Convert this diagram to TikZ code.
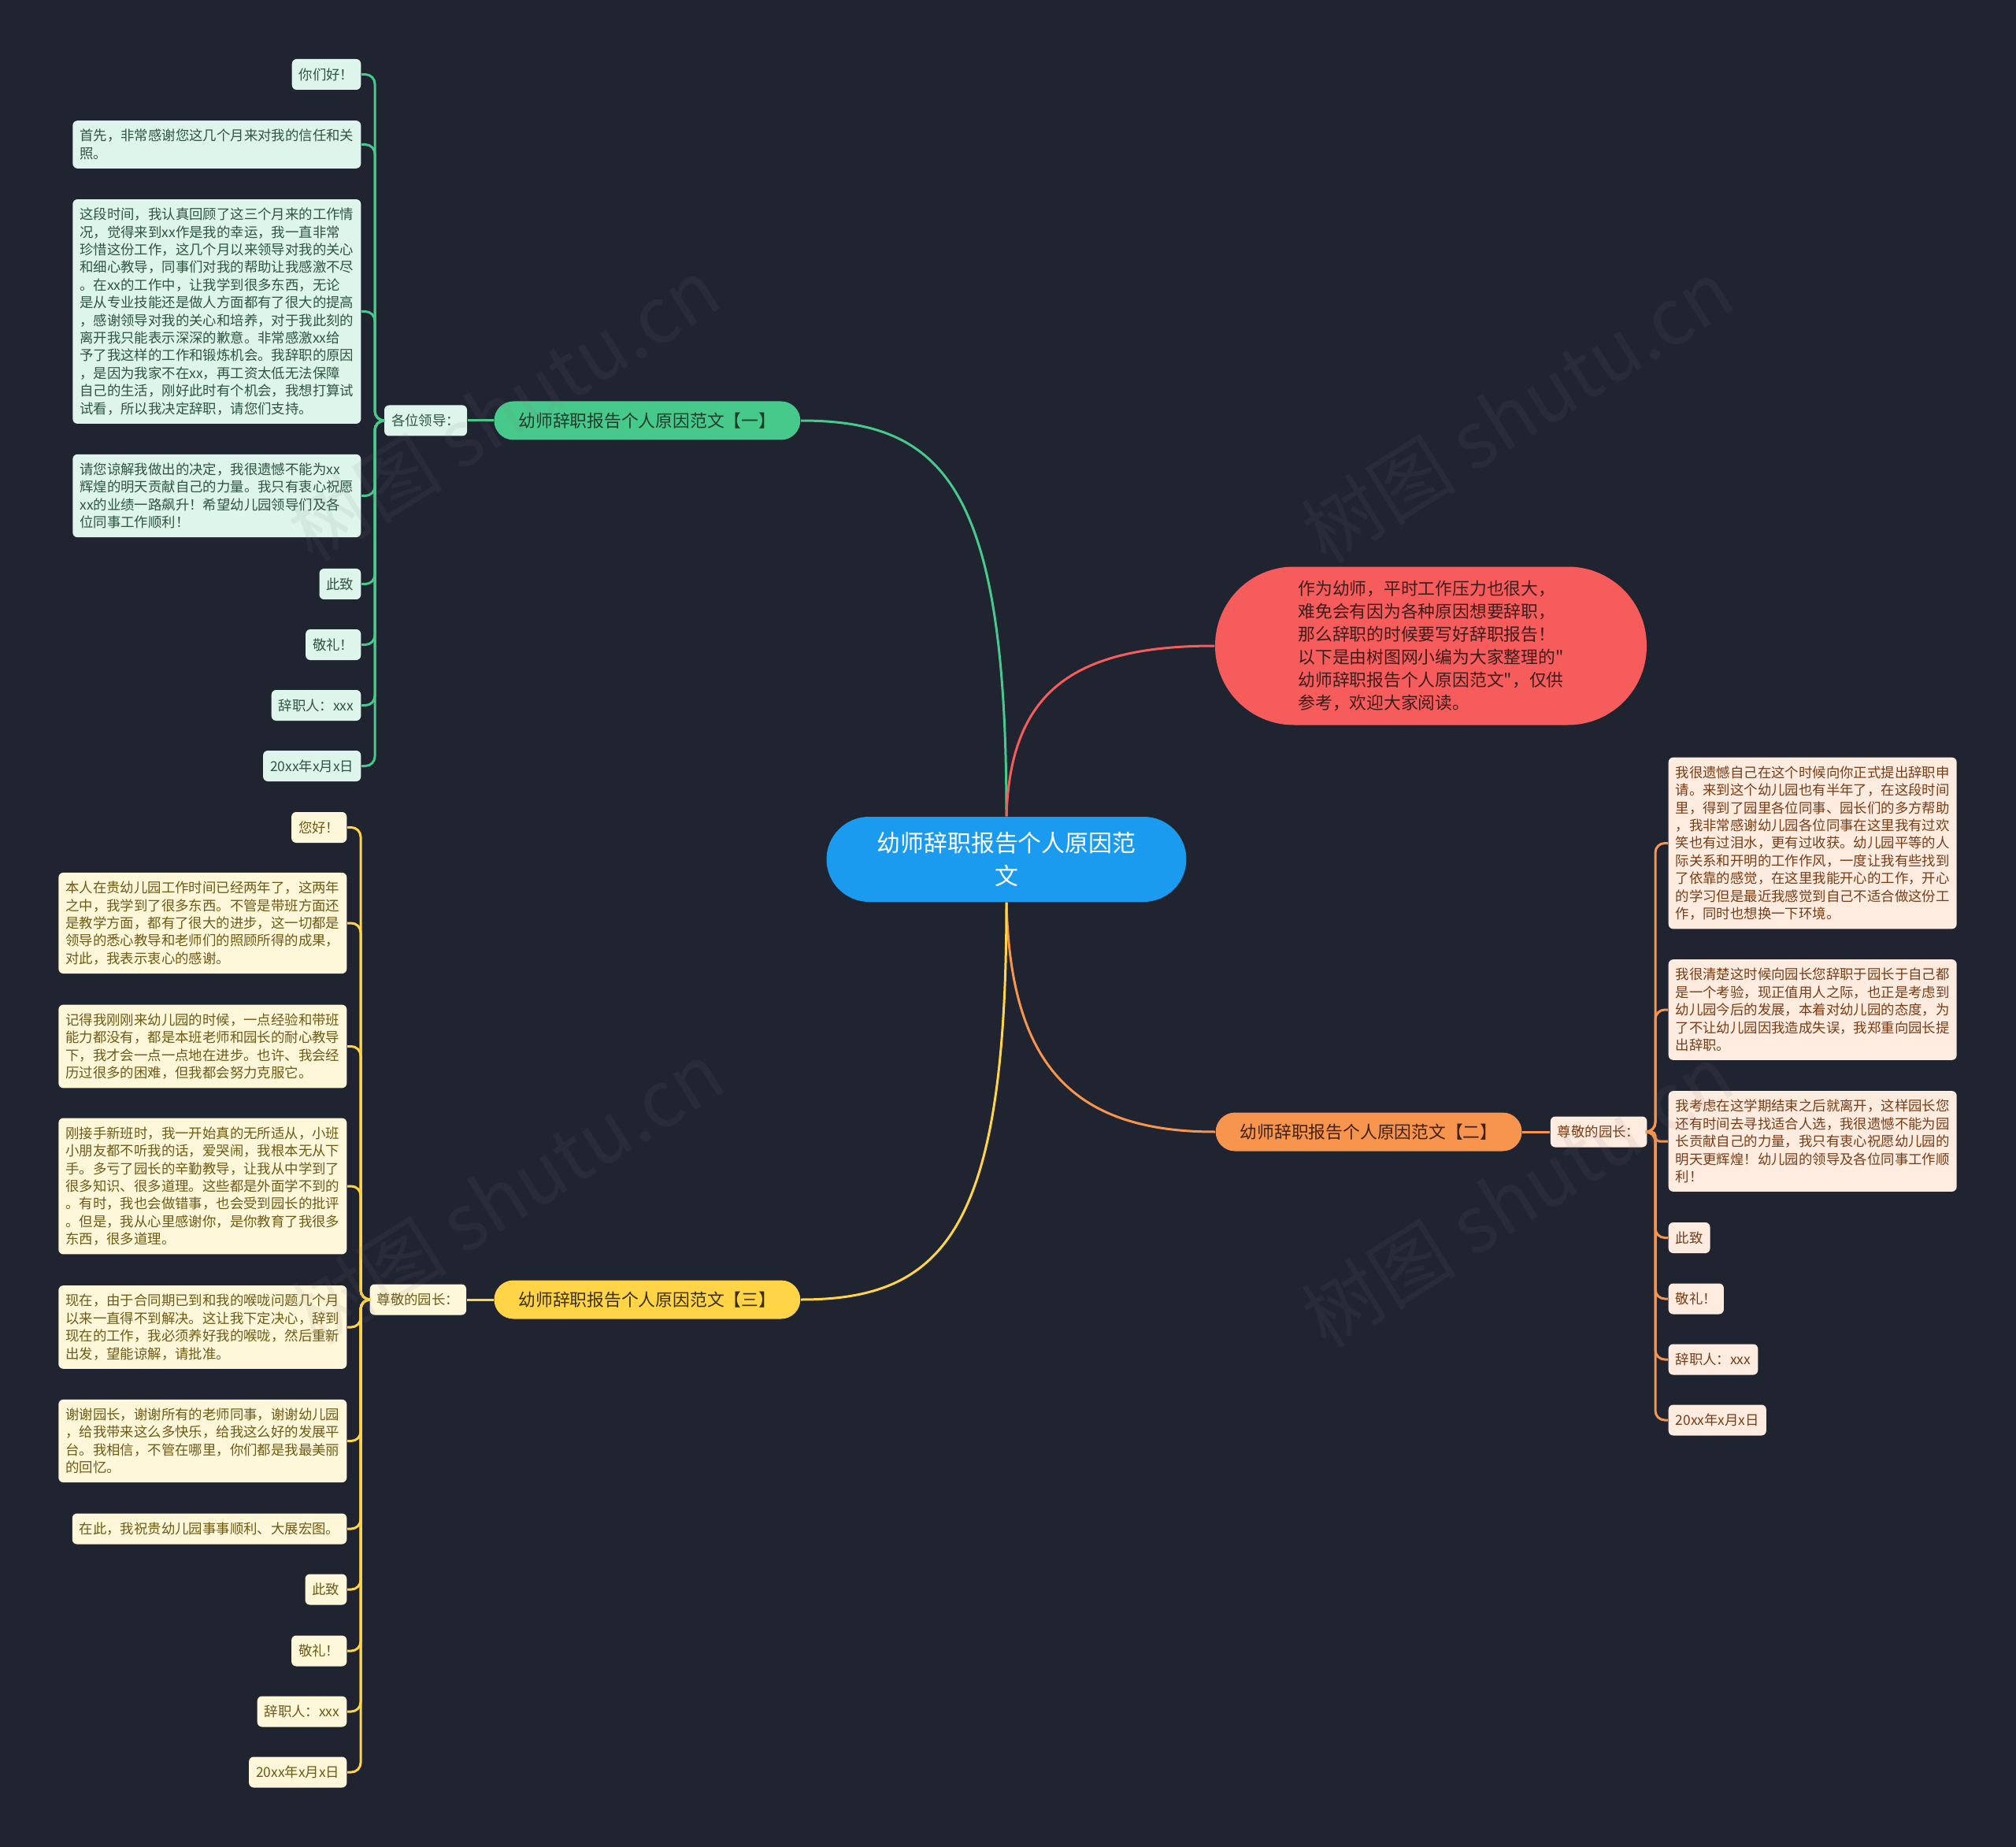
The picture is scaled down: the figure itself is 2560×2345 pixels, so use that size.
\documentclass[tikz,border=0pt]{standalone}
\usepackage{fontspec}
\setmainfont{Noto Sans CJK SC}
\newfontfamily\plainfont{Noto Sans CJK SC}
\usepackage{tikz}
\usetikzlibrary{positioning}
\definecolor{bg}{HTML}{202330}
\definecolor{rootc}{HTML}{1A9BF0}
\definecolor{grn}{HTML}{47C98B}
\definecolor{grnlf}{HTML}{DDF5EA}
\definecolor{grntx}{HTML}{2E5444}
\definecolor{grntop}{HTML}{1E3B2C}
\definecolor{ylw}{HTML}{FFD447}
\definecolor{ylwlf}{HTML}{FFF7DA}
\definecolor{ylwtx}{HTML}{6E5A14}
\definecolor{ylwtop}{HTML}{3B300B}
\definecolor{org}{HTML}{F7954F}
\definecolor{orglf}{HTML}{FFECE1}
\definecolor{orgtx}{HTML}{783C14}
\definecolor{orgtop}{HTML}{40210C}
\definecolor{rd}{HTML}{F65C5C}
\definecolor{rdtx}{HTML}{3D1C1C}

\begin{document}
\begin{tikzpicture}[x=0.1mm, y=-0.1mm,
  root/.style={fill=rootc, text=white, rounded corners=5.4mm, minimum width=45.7mm,
    minimum height=10.8mm, align=center, font=\fontsize{8.5pt}{11.9pt}\selectfont},
  intro/.style={fill=rd, text=rdtx, rounded corners=10mm, minimum width=54.8mm,
    minimum height=20.1mm, align=left, font=\plainfont\fontsize{6.2pt}{8.25pt}\selectfont},
  topic/.style={rounded corners=2.45mm, minimum height=4.9mm, inner xsep=3.1mm,
    inner ysep=0pt, font=\fontsize{6.2pt}{7.5pt}\selectfont},
  note/.style={rounded corners=0.6mm, inner xsep=0.9mm, inner ysep=1.1mm,
    minimum height=3.9mm, align=left, font=\fontsize{4.95pt}{6.37pt}\selectfont},
  gnote/.style={note, fill=grnlf, text=grntx, anchor=east},
  ynote/.style={note, fill=ylwlf, text=ylwtx, anchor=east},
  onote/.style={note, fill=orglf, text=orgtx, anchor=west},
  link/.style={line width=0.3mm},
  fork/.style={line width=0.3mm, rounded corners=1.2mm},
  wmark/.style={text=gray, opacity=0.1, rotate=32, font=\fontsize{28pt}{28pt}\selectfont}
]
\fill[bg] (0,0) rectangle (2560,2345);

% centre and intro
\node[root] (root) at (1278,1091) {幼师辞职报告个人原因范\\文};
\node[intro] (intro) at (1817,820) {作为幼师，平时工作压力也很大，\\难免会有因为各种原因想要辞职，\\那么辞职的时候要写好辞职报告！\\以下是由树图网小编为大家整理的"\\幼师辞职报告个人原因范文"，仅供\\参考，欢迎大家阅读。};

% branch one
\node[topic, fill=grn, text=grntop, anchor=east] (t1) at (1017,534) {幼师辞职报告个人原因范文【一】};
\node[gnote, left=3.3mm of t1] (t1l) {各位领导：};
\coordinate (g-sp) at (476,534);
\node[gnote] (g1) at (459,94.5) {你们好！};
\node[gnote] (g2) at (459,183.5) {首先，非常感谢您这几个月来对我的信任和关\\照。};
\node[gnote] (g3) at (459,395.5) {这段时间，我认真回顾了这三个月来的工作情\\况，觉得来到xx作是我的幸运，我一直非常\\珍惜这份工作，这几个月以来领导对我的关心\\和细心教导，同事们对我的帮助让我感激不尽\\。在xx的工作中，让我学到很多东西，无论\\是从专业技能还是做人方面都有了很大的提高\\，感谢领导对我的关心和培养，对于我此刻的\\离开我只能表示深深的歉意。非常感激xx给\\予了我这样的工作和锻炼机会。我辞职的原因\\，是因为我家不在xx，再工资太低无法保障\\自己的生活，刚好此时有个机会，我想打算试\\试看，所以我决定辞职，请您们支持。};
\node[gnote] (g4) at (459,629.5) {请您谅解我做出的决定，我很遗憾不能为xx\\辉煌的明天贡献自己的力量。我只有衷心祝愿\\xx的业绩一路飙升！希望幼儿园领导们及各\\位同事工作顺利！};
\node[gnote] (g5) at (459,741.5) {此致};
\node[gnote] (g6) at (459,818.5) {敬礼！};
\node[gnote] (g7) at (459,895.5) {辞职人：xxx};
\node[gnote] (g8) at (459,972.5) {20xx年x月x日};

% branch two
\node[topic, fill=org, text=orgtop, anchor=west] (t2) at (1543,1437) {幼师辞职报告个人原因范文【二】};
\node[onote, right=3.5mm of t2] (t2l) {尊敬的园长：};
\coordinate (o-sp) at (2102,1437);
\node[onote] (o1) at (2118,1070.5) {我很遗憾自己在这个时候向你正式提出辞职申\\请。来到这个幼儿园也有半年了，在这段时间\\里，得到了园里各位同事、园长们的多方帮助\\，我非常感谢幼儿园各位同事在这里我有过欢\\笑也有过泪水，更有过收获。幼儿园平等的人\\际关系和开明的工作作风，一度让我有些找到\\了依靠的感觉，在这里我能开心的工作，开心\\的学习但是最近我感觉到自己不适合做这份工\\作，同时也想换一下环境。};
\node[onote] (o2) at (2118,1282) {我很清楚这时候向园长您辞职于园长于自己都\\是一个考验，现正值用人之际，也正是考虑到\\幼儿园今后的发展，本着对幼儿园的态度，为\\了不让幼儿园因我造成失误，我郑重向园长提\\出辞职。};
\node[onote] (o3) at (2118,1449) {我考虑在这学期结束之后就离开，这样园长您\\还有时间去寻找适合人选，我很遗憾不能为园\\长贡献自己的力量，我只有衷心祝愿幼儿园的\\明天更辉煌！幼儿园的领导及各位同事工作顺\\利！};
\node[onote] (o4) at (2118,1571.5) {此致};
\node[onote] (o5) at (2118,1649) {敬礼！};
\node[onote] (o6) at (2118,1726) {辞职人：xxx};
\node[onote] (o7) at (2118,1803) {20xx年x月x日};

% branch three
\node[topic, fill=ylw, text=ylwtop, anchor=east] (t3) at (1017,1650) {幼师辞职报告个人原因范文【三】};
\node[ynote, left=3.4mm of t3] (t3l) {尊敬的园长：};
\coordinate (y-sp) at (458,1650);
\node[ynote] (y1) at (441,1050.5) {您好！};
\node[ynote] (y2) at (441,1172) {本人在贵幼儿园工作时间已经两年了，这两年\\之中，我学到了很多东西。不管是带班方面还\\是教学方面，都有了很大的进步，这一切都是\\领导的悉心教导和老师们的照顾所得的成果，\\对此，我表示衷心的感谢。};
\node[ynote] (y3) at (441,1328.5) {记得我刚刚来幼儿园的时候，一点经验和带班\\能力都没有，都是本班老师和园长的耐心教导\\下，我才会一点一点地在进步。也许、我会经\\历过很多的困难，但我都会努力克服它。};
\node[ynote] (y4) at (441,1506) {刚接手新班时，我一开始真的无所适从，小班\\小朋友都不听我的话，爱哭闹，我根本无从下\\手。多亏了园长的辛勤教导，让我从中学到了\\很多知识、很多道理。这些都是外面学不到的\\。有时，我也会做错事，也会受到园长的批评\\。但是，我从心里感谢你，是你教育了我很多\\东西，很多道理。};
\node[ynote] (y5) at (441,1685) {现在，由于合同期已到和我的喉咙问题几个月\\以来一直得不到解决。这让我下定决心，辞到\\现在的工作，我必须养好我的喉咙，然后重新\\出发，望能谅解，请批准。};
\node[ynote] (y6) at (441,1829.5) {谢谢园长，谢谢所有的老师同事，谢谢幼儿园\\，给我带来这么多快乐，给我这么好的发展平\\台。我相信，不管在哪里，你们都是我最美丽\\的回忆。};
\node[ynote] (y7) at (441,1941) {在此，我祝贵幼儿园事事顺利、大展宏图。};
\node[ynote] (y8) at (441,2018) {此致};
\node[ynote] (y9) at (441,2096) {敬礼！};
\node[ynote] (y10) at (441,2173) {辞职人：xxx};
\node[ynote] (y11) at (441,2250) {20xx年x月x日};

% curves from the centre
\draw[link, grn] (root.north) .. controls (1278,620) and (1200,534) .. (t1.east);
\draw[link, rd] (root.north) .. controls (1283,880) and (1360,820) .. (intro.west);
\draw[link, org] (root.south) .. controls (1283,1350) and (1360,1437) .. (t2.west);
\draw[link, ylw] (root.south) .. controls (1278,1560) and (1200,1650) .. (t3.east);

% topic to label
\draw[link, grn] (t1.west) -- (t1l.east);
\draw[link, org] (t2.east) -- (t2l.west);
\draw[link, ylw] (t3.west) -- (t3l.east);

% label to notes
\draw[fork, grn] (t1l.west) -- (g-sp) |- (g1.east);
\draw[fork, grn] (t1l.west) -- (g-sp) |- (g2.east);
\draw[fork, grn] (t1l.west) -- (g-sp) |- (g3.east);
\draw[fork, grn] (t1l.west) -- (g-sp) |- (g4.east);
\draw[fork, grn] (t1l.west) -- (g-sp) |- (g5.east);
\draw[fork, grn] (t1l.west) -- (g-sp) |- (g6.east);
\draw[fork, grn] (t1l.west) -- (g-sp) |- (g7.east);
\draw[fork, grn] (t1l.west) -- (g-sp) |- (g8.east);

\draw[fork, org] (t2l.east) -- (o-sp) |- (o1.west);
\draw[fork, org] (t2l.east) -- (o-sp) |- (o2.west);
\draw[fork, org, rounded corners=0.5mm] (t2l.east) -- (o-sp) |- (o3.west);
\draw[fork, org] (t2l.east) -- (o-sp) |- (o4.west);
\draw[fork, org] (t2l.east) -- (o-sp) |- (o5.west);
\draw[fork, org] (t2l.east) -- (o-sp) |- (o6.west);
\draw[fork, org] (t2l.east) -- (o-sp) |- (o7.west);

\draw[fork, ylw] (t3l.west) -- (y-sp) |- (y1.east);
\draw[fork, ylw] (t3l.west) -- (y-sp) |- (y2.east);
\draw[fork, ylw] (t3l.west) -- (y-sp) |- (y3.east);
\draw[fork, ylw] (t3l.west) -- (y-sp) |- (y4.east);
\draw[fork, ylw] (t3l.west) -- (y-sp) |- (y5.east);
\draw[fork, ylw] (t3l.west) -- (y-sp) |- (y6.east);
\draw[fork, ylw] (t3l.west) -- (y-sp) |- (y7.east);
\draw[fork, ylw] (t3l.west) -- (y-sp) |- (y8.east);
\draw[fork, ylw] (t3l.west) -- (y-sp) |- (y9.east);
\draw[fork, ylw] (t3l.west) -- (y-sp) |- (y10.east);
\draw[fork, ylw] (t3l.west) -- (y-sp) |- (y11.east);

% watermark
\node[wmark] (wm1) at (640,520) {树图 shutu.cn};
\node[wmark] (wm2) at (1927,522) {树图 shutu.cn};
\node[wmark] (wm3) at (645,1515) {树图 shutu.cn};
\node[wmark] (wm4) at (1927,1518) {树图 shutu.cn};
\end{tikzpicture}
\end{document}
